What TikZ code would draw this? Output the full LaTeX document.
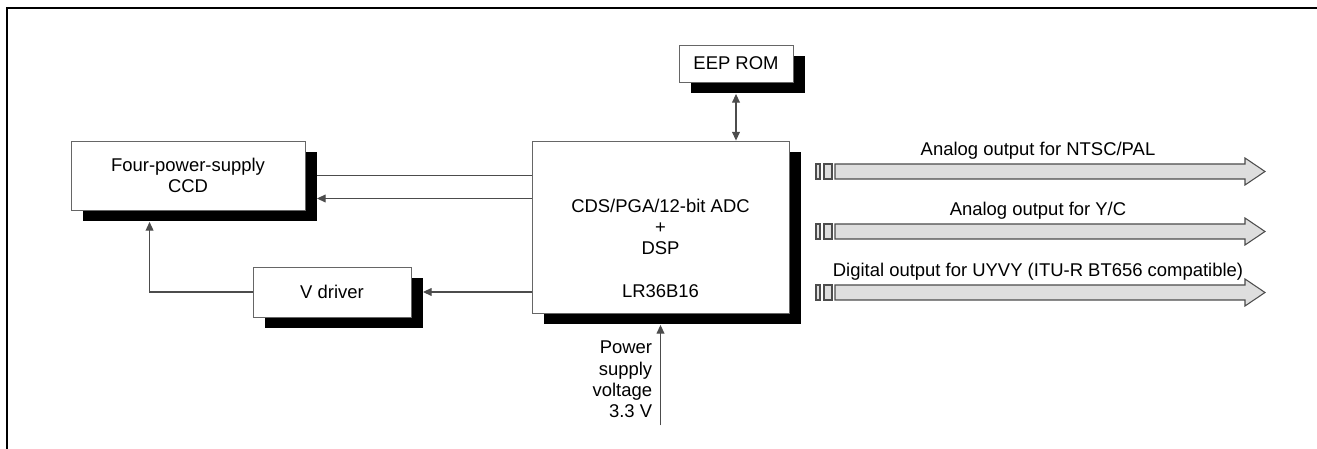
\documentclass[tikz,border=0pt]{standalone}
\usepackage{fontspec}
\setmainfont{Liberation Sans}
\usetikzlibrary{arrows.meta, positioning, shadows}
\definecolor{bordeBloque}{gray}{0.4}
\definecolor{trazo}{gray}{0.3}
\definecolor{fondoSalida}{gray}{0.87}

\begin{document}
\begin{tikzpicture}[
  font=\fontsize{10.5}{12.2}\selectfont,
  bloque/.style={draw=bordeBloque, fill=white, line width=0.5pt,
                 align=center, inner sep=2pt,
                 drop shadow={shadow xshift=0.23cm, shadow yshift=-0.23cm,
                              fill=black, opacity=1}},
  linea/.style={draw=trazo, line width=0.6pt},
  flecha/.style={linea, -{Triangle[length=5pt, width=4.5pt]}},
  doble/.style={linea, {Triangle[length=5pt, width=4.5pt]}-{Triangle[length=5pt, width=4.5pt]}},
  salida/.style={draw=trazo, fill=fondoSalida, line width=0.6pt},
  rotulo/.style={inner sep=0pt}
]
\useasboundingbox (0,0) rectangle (26.34,8.98);

% marco
\draw[line width=0.6pt] (26.34,8.82) -- (0.14,8.82) -- (0.14,0);

\node[bloque, minimum width=4.68cm, minimum height=1.38cm] (ccd) at (3.76,5.47) {Four-power-supply\\CCD};
\node[bloque, minimum width=3.16cm, minimum height=1.0cm] (vdrv) at (6.64,3.14) {V driver};
\node[bloque, minimum width=5.14cm, minimum height=3.44cm] (dsp) at (13.21,4.44) {};
\node[rotulo, align=center, anchor=base] (dsptxt) at ([yshift=-0.56cm]dsp.center) {CDS/PGA/12-bit ADC\\+\\DSP};
\node[rotulo, anchor=base] (chip) at ([yshift=-1.42cm]dsp.center) {LR36B16};
\node[bloque, minimum width=2.28cm, minimum height=0.74cm] (eep) at (14.72,7.71) {EEP ROM};

% enlaces con el CCD
\coordinate (ccdalto) at ([xshift=0.23cm]ccd.east);
\coordinate (ccdbajo) at ([xshift=0.23cm, yshift=-0.46cm]ccd.east);
\draw[linea] (dsp.west |- ccdalto) -- (ccdalto);
\draw[flecha] (dsp.west |- ccdbajo) -- (ccdbajo);
\draw[flecha] (dsp.west |- vdrv.east) -- ([xshift=0.23cm]vdrv.east);
\draw[flecha] (vdrv.west) -| ([xshift=1.58cm, yshift=-0.23cm]ccd.south west);
\draw[doble] ([yshift=-0.23cm]eep.south) -- (eep.south |- dsp.north);

% alimentacion
\coordinate (alim) at ([yshift=-2.24cm]dsp.south);
\draw[flecha] (alim) -- ([yshift=-0.23cm]dsp.south);
\node[rotulo, align=right, anchor=south east] (alimtxt) at ([xshift=-0.16cm, yshift=0.14cm]alim) {Power\\supply\\voltage\\3.3 V};

% salidas
\foreach \y/\txt [count=\i] in {5.55/{Analog output for NTSC/PAL},
                                4.35/{Analog output for Y/C},
                                3.13/{Digital output for UYVY (ITU-R BT656 compatible)}} {
  \draw[salida] (16.32,\y-0.15) rectangle (16.40,\y+0.15);
  \draw[salida] (16.48,\y-0.15) rectangle (16.64,\y+0.15);
  \draw[salida] (16.70,\y-0.15) -- (24.90,\y-0.15) -- (24.90,\y-0.27) -- (25.30,\y)
     -- (24.90,\y+0.27) -- (24.90,\y+0.15) -- (16.70,\y+0.15) -- cycle;
  \node[rotulo, anchor=base] (out\i) at (20.76,\y+0.31) {\txt};
}

\end{tikzpicture}
\end{document}
